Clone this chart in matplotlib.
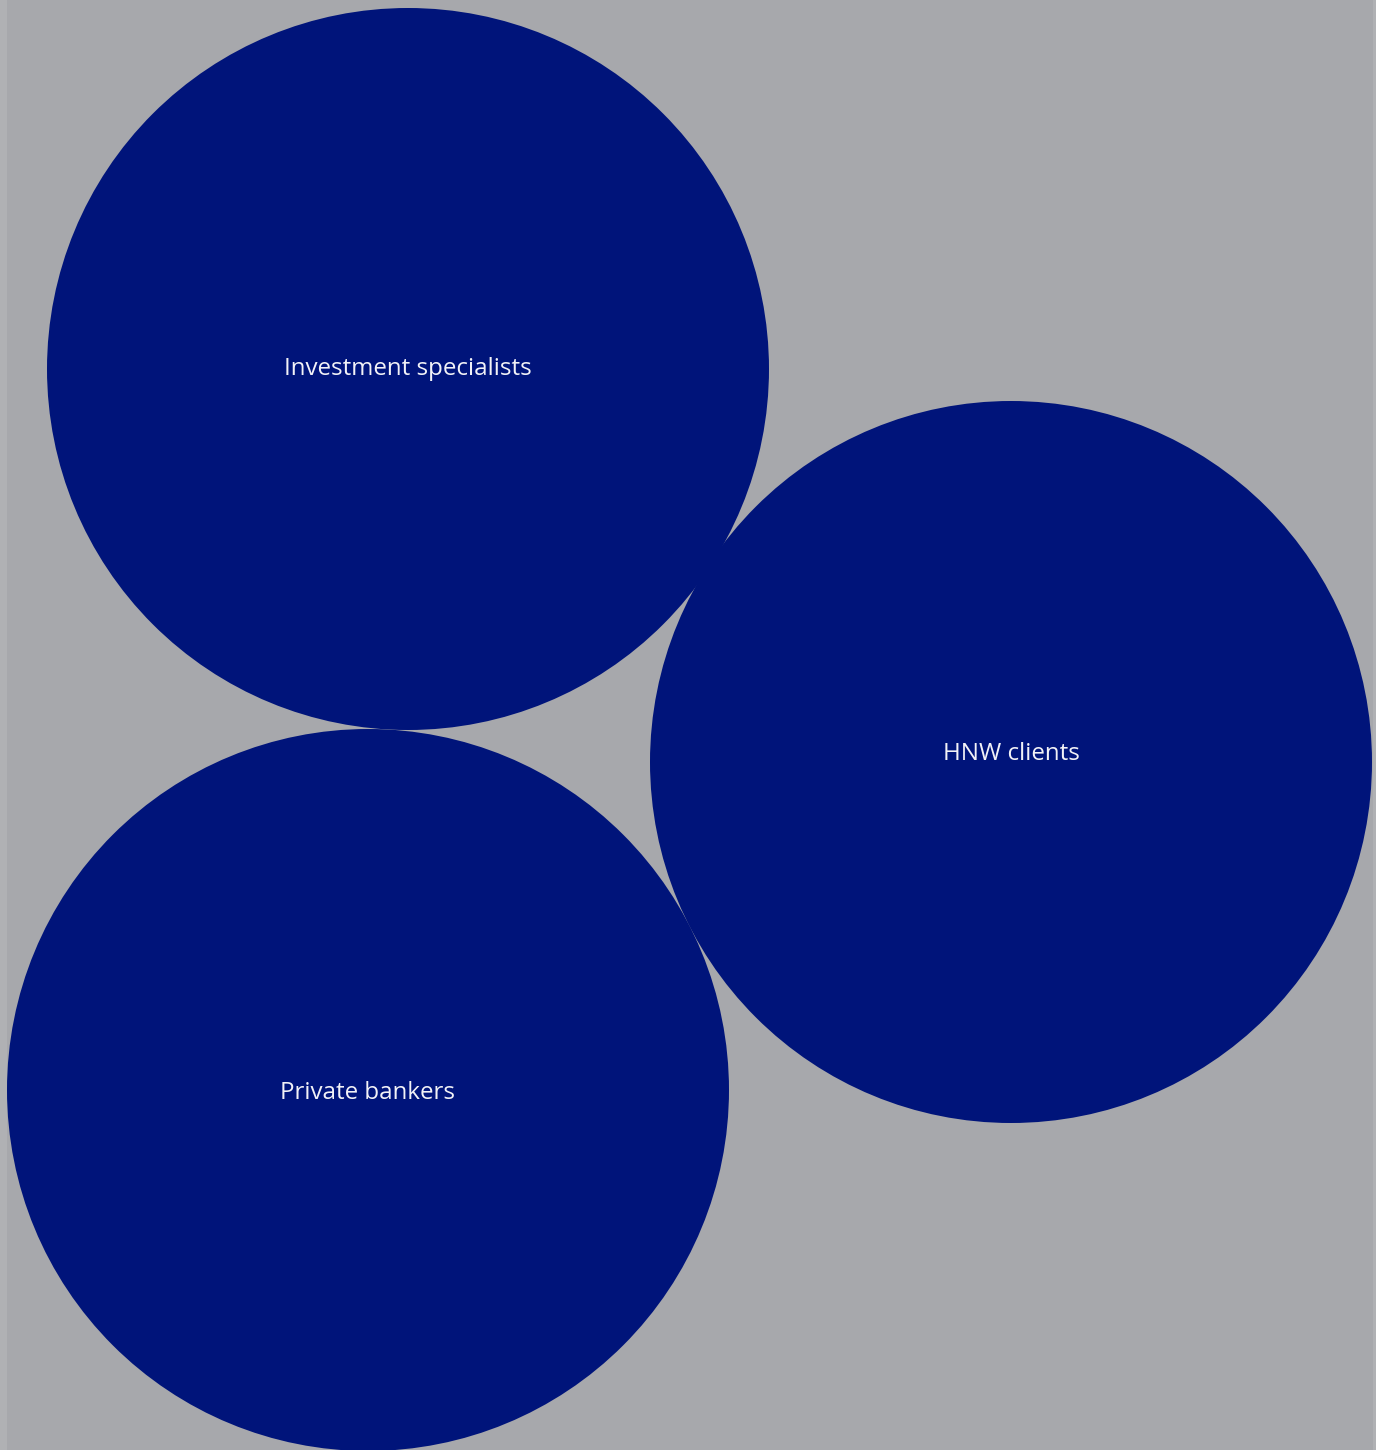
import matplotlib
matplotlib.use("Agg")
import matplotlib.pyplot as plt
from matplotlib.patches import Circle, Rectangle

# bubble layout (pixel space of the original chart)
labels = ["Investment specialists", "HNW clients", "Private bankers"]
values = [1, 1, 1]
center_x = [408, 1011, 368]
center_y = [369, 762, 1090]
label_y_offset = [0, -8, 3]

W, H = 1376, 1450
max_radius = 361

fig = plt.figure(figsize=(W / 100, H / 100), dpi=100, facecolor="#b0b1b4")
ax = fig.add_axes([0, 0, 1, 1])
ax.set_xlim(0, W)
ax.set_ylim(H, 0)
ax.axis("off")

ax.add_patch(Rectangle((7, 0), W - 10, H, facecolor="#a7a8ac", edgecolor="none"))

vmax = max(values)
for lab, v, x, y, off in zip(labels, values, center_x, center_y, label_y_offset):
    r = max_radius * (v / vmax) ** 0.5
    ax.add_patch(Circle((x, y), r, facecolor="#00147a", edgecolor="none"))
    ax.text(x, y + off, lab, ha="center", va="center", color="#f2f2f7",
            fontsize=17.4, family="Open Sans")

fig.savefig("out.png", dpi=100, facecolor=fig.get_facecolor())
